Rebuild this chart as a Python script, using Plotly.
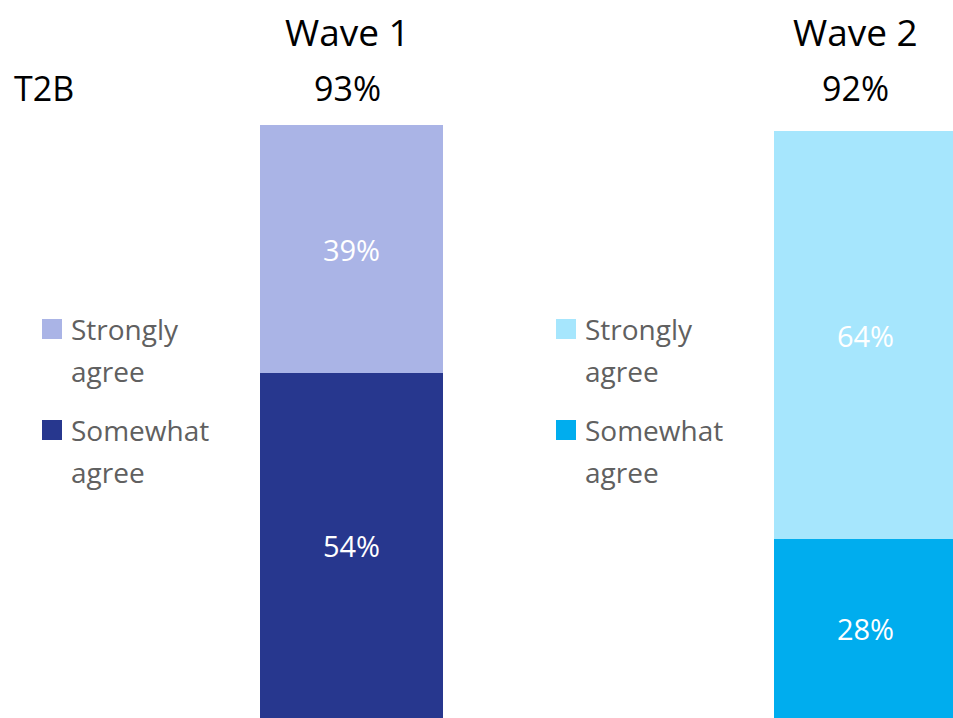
import plotly.graph_objects as go

waves = ["Wave 1", "Wave 2"]
somewhat_agree = [54, 28]
strongly_agree = [39, 64]
legend_labels = [["Strongly", "agree"], ["Somewhat", "agree"]]
header_label = "T2B"

colors_somewhat = ["#27378e", "#00adee"]
colors_strongly = ["#aab4e6", "#a6e6fd"]

FONT = "Open Sans"
W, H = 953, 718
PX_PER_PCT = 6.38
step = 514.0           # pixels between bar centres
c0 = 351.5             # pixel centre of the first bar
bar_w = 183.0 / step

fig = go.Figure()
fig.add_trace(go.Bar(
    x=[0, 1], y=somewhat_agree, width=bar_w,
    marker=dict(color=colors_somewhat, line=dict(width=0)),
    text=[f"{v}%" for v in somewhat_agree], textposition="inside",
    insidetextanchor="middle", textangle=0,
    textfont=dict(family=FONT, size=29, color="white"),
    showlegend=False, hoverinfo="skip",
))
fig.add_trace(go.Bar(
    x=[0, 1], y=strongly_agree, width=bar_w,
    marker=dict(color=colors_strongly, line=dict(width=0)),
    text=[f"{v}%" for v in strongly_agree], textposition="inside",
    insidetextanchor="middle", textangle=0,
    textfont=dict(family=FONT, size=29, color="white"),
    showlegend=False, hoverinfo="skip",
))

annotations = []
shapes = []
totals = [a + b for a, b in zip(somewhat_agree, strongly_agree)]
title_shift = [-4, -10]
for i, (wave, tot) in enumerate(zip(waves, totals)):
    annotations.append(dict(
        x=i, xref="x", y=1 - 32 / H, yref="paper", text=wave, showarrow=False,
        xshift=title_shift[i], font=dict(family=FONT, size=37, color="black"),
        xanchor="center", yanchor="middle"))
    annotations.append(dict(
        x=i, xref="x", y=1 - 88 / H, yref="paper", text=f"{tot}%", showarrow=False,
        xshift=title_shift[i], font=dict(family=FONT, size=34, color="black"),
        xanchor="center", yanchor="middle"))

annotations.append(dict(
    x=12 / W, xref="paper", y=1 - 88 / H, yref="paper", text=header_label,
    showarrow=False, font=dict(family=FONT, size=34, color="black"),
    xanchor="left", yanchor="middle"))

# legend blocks beside each bar
legend_x = [42, 556]
item_top = [319, 420]
for i in range(len(waves)):
    swatches = [colors_strongly[i], colors_somewhat[i]]
    for j, lines in enumerate(legend_labels):
        x0 = legend_x[i]
        y0 = item_top[j]
        shapes.append(dict(
            type="rect", xref="paper", yref="paper",
            x0=x0 / W, x1=(x0 + 20) / W, y0=1 - y0 / H, y1=1 - (y0 + 20) / H,
            fillcolor=swatches[j], line=dict(width=0)))
        for k, line in enumerate(lines):
            annotations.append(dict(
                x=(x0 + 27) / W, xref="paper", y=1 - (y0 + 10 + 42 * k) / H, yref="paper",
                text=line, showarrow=False, xanchor="left", yanchor="middle",
                font=dict(family=FONT, size=28, color="#606060")))

fig.update_layout(
    width=W, height=H,
    margin=dict(l=0, r=0, t=0, b=0),
    barmode="stack",
    plot_bgcolor="white", paper_bgcolor="white",
    xaxis=dict(range=[-c0 / step, 1 + (W - c0 - step) / step], visible=False, fixedrange=True),
    yaxis=dict(range=[0, H / PX_PER_PCT], visible=False, fixedrange=True),
    annotations=annotations, shapes=shapes,
    uniformtext=dict(mode=False),
)

fig.write_html("out.html", config={"displayModeBar": False})
